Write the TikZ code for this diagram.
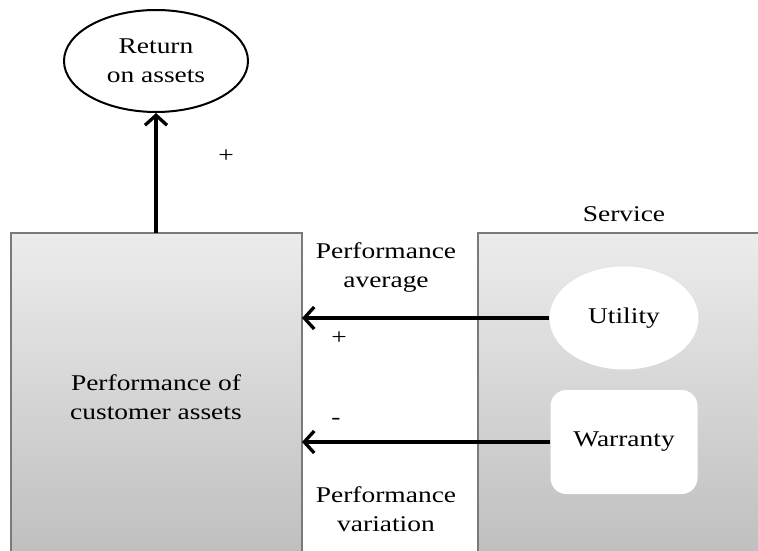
\documentclass[tikz,border=0pt]{standalone}
\usepackage{fontspec}
\setmainfont{Liberation Serif}[FakeStretch=1.22]
\usetikzlibrary{arrows.meta,shapes.geometric}
\definecolor{boxedge}{HTML}{7A7A7A}
\definecolor{boxtop}{HTML}{ECECEC}
\definecolor{boxbot}{HTML}{BEBEBE}
\tikzset{
  lbl/.style={font=\fontsize{22.5}{29}\selectfont, align=center, inner sep=0pt},
  panel/.style={draw=boxedge, line width=1.3pt, top color=boxtop, bottom color=boxbot},
  flow/.style={line width=3.3pt, -{Straight Barb[length=10pt,width=22pt,line width=3.3pt]}},
  whitebub/.style={fill=white, draw=none, lbl}
}
\begin{document}
\begin{tikzpicture}[x=1pt,y=-1pt]
  \useasboundingbox (0,0) rectangle (758,551);
  \begin{scope}
    \clip (0,0) rectangle (758,551);
    % the two panels run off the lower (and right) edge
    \path[panel] (11,233) rectangle (302,560);
    \path[panel] (478,233) rectangle (770,560);
  \end{scope}
  \coordinate (leftbox) at (156,233);
  \node[lbl] (perf) at (156,397) {Performance of\\customer assets};
  \node[lbl] (service) at (624,214) {Service};

  % objective
  \node[draw, ellipse, line width=2pt, fill=white, minimum width=184pt, minimum height=102pt, lbl] (roa) at (156,61) {Return\\on assets};
  \draw[flow] (leftbox) -- (roa.south);
  \node[lbl] (plusroa) at (226,156) {+};

  % service components
  \node[whitebub, ellipse, minimum width=149pt, minimum height=103pt] (utility) at (624,318) {Utility};
  \node[whitebub, rounded corners=16pt, minimum width=147pt, minimum height=104pt] (warranty) at (624,442) {Warranty};

  \coordinate (inavg) at (302,318);
  \coordinate (invar) at (302,442);
  \draw[flow] (utility.west) -- (inavg);
  \draw[flow] (warranty.west) -- (invar);

  \node[lbl] (avg) at (386,268) {Performance\\average};
  \node[lbl] (plusavg) at (339,338) {+};
  \node[lbl] (minusvar) at (336,421) {-};
  \node[lbl] (var) at (386,509) {Performance\\variation};
\end{tikzpicture}
\end{document}
